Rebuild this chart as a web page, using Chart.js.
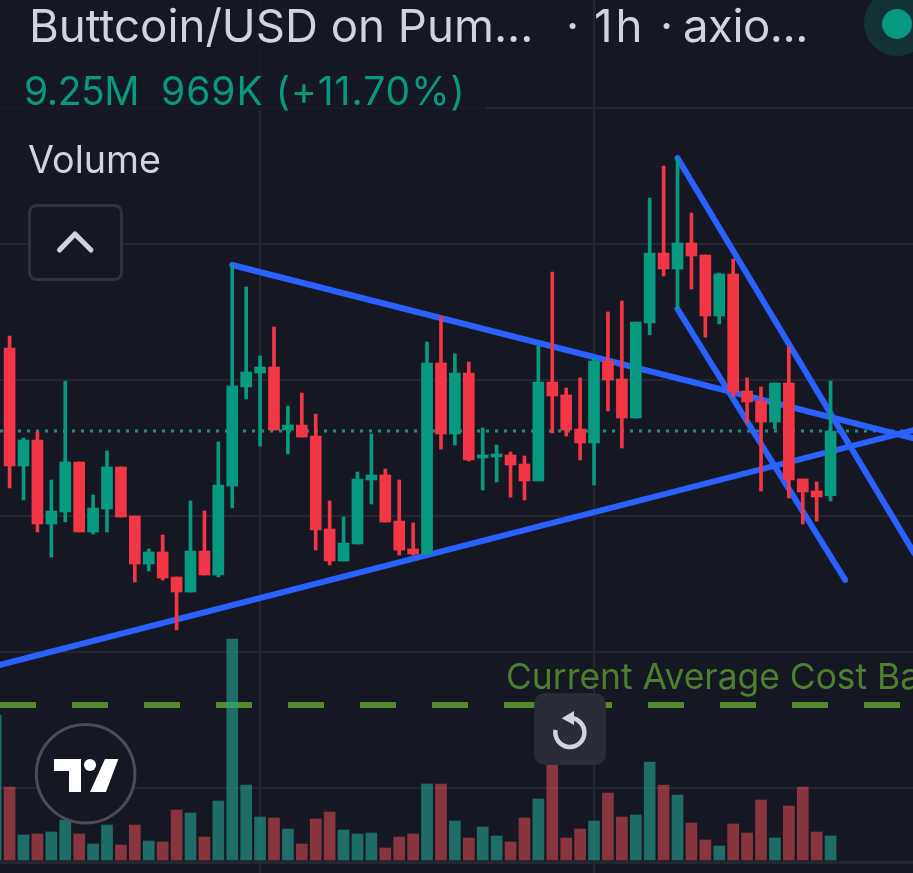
<!DOCTYPE html>
<html>
<head>
<meta charset="utf-8">
<title>Buttcoin/USD</title>
<script src="https://cdn.jsdelivr.net/npm/chart.js@4/dist/chart.umd.min.js"></script>
<style>
html,body{margin:0;padding:0;background:#151823;width:913px;height:873px;overflow:hidden}
#wrap{position:relative;width:913px;height:873px;overflow:hidden}
canvas{position:absolute;left:0;top:0}
.t{position:absolute;white-space:nowrap;font-family:Inter,"Noto Sans",sans-serif;line-height:1}
.title{color:#d1d4dc;font-size:45.6px;top:3px}
.legend{color:#089981;font-size:39px;top:71px}
svg{position:absolute;left:0;top:0}
</style>
</head>
<body>
<div id="wrap">
<canvas id="c" width="913" height="873"></canvas>
<div style="position:absolute;left:0;top:0;width:486px;height:110px;background:rgba(21,24,35,.8)"></div>
<svg width="913" height="873" viewBox="0 0 913 873">
  <circle cx="897" cy="23" r="33" fill="#089981" fill-opacity=".2"/>
  <circle cx="897" cy="24" r="15" fill="#089981"/>
  <rect x="29.5" y="205.5" width="92" height="74" rx="7" fill="#151823" stroke="#2f323c" stroke-width="3"/>
  <path d="M59.5 250 L75 234 L91 250" fill="none" stroke="#d1d4dc" stroke-width="5" stroke-linecap="round" stroke-linejoin="round"/>
  <circle cx="85.6" cy="773.7" r="49.3" fill="#151823" stroke="#4a4d57" stroke-width="3"/>
  <path d="M54 759H81V792H69V771H54Z M105 759H118.3L106 792H90Z" fill="#fff"/>
  <circle cx="90" cy="765" r="6" fill="#fff"/>
  <rect x="534.3" y="693.3" width="71.4" height="71.7" rx="10" fill="#2a2d38"/>
  <path d="M570 718 A14.5 14.5 0 1 1 555.6 730" fill="none" stroke="#d1d4dc" stroke-width="4.5"/>
  <path d="M574 711V725L561.7 718.3Z" fill="#d1d4dc"/>
</svg>
<div class="t title" style="left:29px">Buttcoin/USD on Pum...</div>
<div class="t title" style="left:566px">·</div>
<div class="t title" style="left:594px;letter-spacing:3px">1h</div>
<div class="t title" style="left:660px">·</div>
<div class="t title" style="left:683px;letter-spacing:-0.5px">axio...</div>
<div class="t legend" style="left:24px;letter-spacing:-.4px">9.25M</div>
<div class="t legend" style="left:161px;letter-spacing:1px">969K (+11.70%)</div>
<div class="t title" style="left:28px;top:141px;font-size:37.7px">Volume</div>
<div class="t" style="left:506px;top:659px;font-size:35.4px;color:#4e7f2e;">Current Average Cost Basis</div>
</div>
<script>
const candleIndex = [0,1,2,3,4,5,6,7,8,9,10,11,12,13,14,15,16,17,18,19,20,21,22,23,24,25,26,27,28,29,30,31,32,33,34,35,36,37,38,39,40,41,42,43,44,45,46,47,48,49,50,51,52,53,54,55,56,57,58,59,60];
const opens  = [null,10495,8725,9115,7855,8035,8785,7735,8080,8710,7975,7255,7435,7060,6835,7450,7090,8425,9910,10120,10210,9265,9340,9175,7780,7300,7555,8515,8590,7900,7480,7405,10270,9205,10120,8845,8860,8890,8755,8500,9985,9790,9280,9070,10300,10030,9445,10870,11920,11680,12070,11890,10975,11605,9850,9700,9385,9970,8530,8350,8281];
const highs  = [null,10675,9145,9235,8515,10000,8785,8290,8950,8710,7975,7480,7690,7060,8200,8050,9085,11740,11410,10375,10810,9625,9820,9505,8200,7960,8635,9205,8680,8515,7870,10585,10975,10405,10285,9295,9040,8935,8875,10525,11635,9895,10045,10345,11035,11200,10885,12745,13225,13345,12520,11890,11620,11830,10045,9910,9970,10510,8530,8485,10000];
const lows   = [null,8395,8215,7735,7360,7885,7735,7705,7735,7960,6985,7150,7015,6265,6835,7090,7060,8095,9730,9025,9265,8905,9160,7465,7240,7300,7555,8155,7885,7390,7390,7405,8980,9040,8800,8365,8485,8260,8215,8500,9220,9175,8815,8440,9550,8995,9445,10690,11575,11080,11380,10660,10855,9760,9370,8350,9280,8245,7855,7900,8200];
const closes = [null,8725,9115,7855,8050,8785,7735,8095,8710,7960,7255,7435,7045,6835,7450,7090,8440,9925,10135,10210,9265,9340,9160,7765,7300,7570,8530,8590,7885,7465,7405,10270,9205,10120,8815,8890,8905,8740,8500,9985,9775,9265,9070,10300,10015,9445,10885,11920,11680,12070,11875,10975,11605,9835,9685,9385,9970,8515,8335,8260,9250];
const volumes = [1450,730,250,260,280,400,260,160,350,150,350,190,180,500,470,230,590,2210,750,430,420,310,160,410,480,300,260,270,120,230,260,760,760,390,220,330,240,180,420,610,1150,220,310,390,670,430,450,980,750,650,370,200,140,360,270,600,220,540,730,280,240];

const lastPrice = 9250;
const costBasis = 5140;
const trendUpperX = [17,66],  trendUpperY = [11740,9140];
const trendLowerX = [0,66],   trendLowerY = [5725,9265];
const channelTopX = [49,66],  channelTopY = [13345,7420];
const channelBotX = [49,61.05], channelBotY = [11080,7015];

const priceGridTicks = [14095,12055,10015,7975,5935,3895,2777];
const timeGridTicks = [19,43];
const priceMin = 2620, priceMax = 15715;
const volMin = -130, volMax = 8600;
const xMin = 0.31, xMax = 65.923;

const UP='#089981', DOWN='#f23645', UPV='rgba(36,166,148,.6)', DOWNV='rgba(242,80,90,.52)';
const GRID='#24272f', BLUE='#2962ff';

const shown = candleIndex.filter(k => opens[k] !== null);
const isUp = k => opens[k] === null || closes[k] >= opens[k];
const pts = (xs,ys) => xs.map((x,i)=>({x,y:ys[i]}));
const lineDs = (data,extra) => Object.assign({type:'line',data,xAxisID:'x',yAxisID:'y',pointRadius:0,borderWidth:6,borderColor:BLUE,borderCapStyle:'round',tension:0,fill:false,order:3},extra);

new Chart(document.getElementById('c'),{
  data:{datasets:[
    lineDs(pts([xMin,xMax],[costBasis,costBasis]),{borderColor:'#538a2e',borderWidth:6,borderDash:[36,36],borderCapStyle:'butt',order:6}),
    {type:'bar',data:candleIndex.map(k=>({x:k,y:volumes[k]})),xAxisID:'x',yAxisID:'vol',barThickness:11,grouped:false,backgroundColor:candleIndex.map(k=>isUp(k)?UPV:DOWNV),order:5},
    lineDs(pts([xMin,xMax],[lastPrice,lastPrice]),{borderColor:'#1f8f78',borderWidth:3,borderDash:[3,6],borderCapStyle:'butt',order:4}),
    lineDs(pts(trendUpperX,trendUpperY)),
    lineDs(pts(trendLowerX,trendLowerY)),
    lineDs(pts(channelTopX,channelTopY)),
    lineDs(pts(channelBotX,channelBotY)),
    {type:'bar',data:shown.map(k=>({x:k,y:[lows[k],highs[k]]})),xAxisID:'x',yAxisID:'y',barThickness:3,grouped:false,backgroundColor:shown.map(k=>isUp(k)?UP:DOWN),order:2},
    {type:'bar',data:shown.map(k=>({x:k,y:[opens[k],closes[k]]})),xAxisID:'x',yAxisID:'y',barThickness:11,grouped:false,backgroundColor:shown.map(k=>isUp(k)?UP:DOWN),order:1}
  ]},
  options:{
    responsive:false,animation:false,
    layout:{padding:0},
    plugins:{legend:{display:false},tooltip:{enabled:false},title:{display:false}},
    scales:{
      x:{type:'linear',position:'bottom',min:xMin,max:xMax,offset:false,
         afterBuildTicks:s=>{s.ticks=timeGridTicks.map(v=>({value:v}));},
         ticks:{display:false},border:{display:false},
         grid:{color:GRID,lineWidth:2,drawTicks:false,offset:false}},
      y:{type:'linear',position:'left',min:priceMin,max:priceMax,
         afterBuildTicks:s=>{s.ticks=priceGridTicks.map(v=>({value:v}));},
         ticks:{display:false},border:{display:false},
         grid:{color:GRID,lineWidth:c=>c.tick&&c.tick.value===2777?3:2,drawTicks:false}},
      vol:{type:'linear',display:false,min:volMin,max:volMax}
    }
  }
});
</script>
</body>
</html>
